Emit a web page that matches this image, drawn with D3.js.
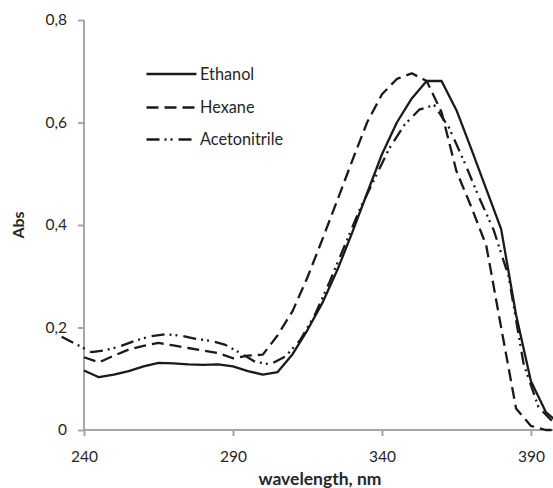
<!DOCTYPE html>
<html><head><meta charset="utf-8">
<script src="https://cdn.jsdelivr.net/npm/d3@7"></script>
<style>
html,body{margin:0;padding:0;background:#fff;overflow:hidden}
text{font-family:Lato,"Open Sans",sans-serif}
</style></head>
<body>
<svg id="chart" width="553" height="488"></svg>
<script>
// Data
const ethanolWl = [240,245,250,255,260,265,270,275,280,285,290,295,300,305,310,315,320,325,330,335,340,345,350,355,360,365,370,375,380,385,390,395,400];
const ethanolAbs = [0.116,0.103,0.108,0.115,0.124,0.131,0.130,0.128,0.127,0.128,0.124,0.115,0.108,0.113,0.148,0.195,0.248,0.312,0.385,0.462,0.538,0.600,0.647,0.681,0.681,0.624,0.548,0.470,0.392,0.225,0.095,0.035,0.010];
const hexaneWl = [240,245,250,255,260,265,270,275,280,285,290,295,300,305,310,315,320,325,330,335,340,345,350,355,360,365,370,375,380,385,390,395,400];
const hexaneAbs = [0.142,0.132,0.145,0.157,0.164,0.170,0.165,0.160,0.155,0.150,0.140,0.145,0.147,0.185,0.232,0.298,0.372,0.448,0.525,0.600,0.655,0.685,0.696,0.681,0.620,0.505,0.435,0.360,0.200,0.042,0.008,0.000,0.000];
const acetonitrileWl = [232.5,237.5,242.5,247.5,252.5,257.5,262.5,267.5,272.5,277.5,282.5,287.5,292.5,297.5,302.5,307.5,312.5,317.5,322.5,327.5,332.5,337.5,342.5,347.5,352.5,357.5,362.5,367.5,372.5,377.5,382.5,387.5,392.5,397.5];
const acetonitrileAbs = [0.182,0.167,0.152,0.156,0.164,0.175,0.183,0.187,0.184,0.178,0.174,0.166,0.150,0.133,0.128,0.143,0.175,0.225,0.290,0.360,0.430,0.490,0.550,0.595,0.625,0.634,0.590,0.525,0.455,0.390,0.300,0.130,0.045,0.015];
const seriesNames = ["Ethanol","Hexane","Acetonitrile"];
const xTicks = [240,290,340,390];
const yTicks = [0,0.2,0.4,0.6,0.8];

const svg = d3.select("#chart");
const x = d3.scaleLinear().domain([240,397.4]).range([84,553]);
const y = d3.scaleLinear().domain([0,0.8]).range([430,20]);
const axisColor = "#a6a6a6";
const textColor = "#262626";

// axes
const yAxis = svg.append("g").attr("transform","translate(84,0)")
  .call(d3.axisLeft(y).tickValues(yTicks).tickSize(6).tickPadding(11)
    .tickFormat(d => d===0 ? "0" : d3.format(".1f")(d).replace(".",",")));
const xAxis = svg.append("g").attr("transform","translate(0,430)")
  .call(d3.axisBottom(x).tickValues(xTicks).tickSize(6).tickPadding(15).tickFormat(d3.format("d")));
[yAxis,xAxis].forEach(g=>{
  g.select(".domain").attr("stroke",axisColor).attr("stroke-width",2);
  g.selectAll(".tick line").attr("stroke",axisColor).attr("stroke-width",2);
  g.selectAll(".tick text").attr("fill",textColor).style("font-size","15.5px").style("font-family","Lato, sans-serif");
});
yAxis.select(".domain").attr("d","M0,20V430");
xAxis.select(".domain").attr("d","M84,0H553");

// lines
const styles = [
  {dash:null},
  {dash:"12,6"},
  {dash:"13,5,2,4,2,6"}
];
const series = [
  ethanolWl.map((w,i)=>[w,ethanolAbs[i]]),
  hexaneWl.map((w,i)=>[w,hexaneAbs[i]]),
  acetonitrileWl.map((w,i)=>[w,acetonitrileAbs[i]])
];
const line = d3.line().x(d=>x(d[0])).y(d=>y(d[1]));
series.forEach((s,i)=>{
  svg.append("path").attr("d",line(s)).attr("fill","none")
    .attr("stroke","#1a1a1a").attr("stroke-width",2.3)
    .attr("stroke-linejoin","round")
    .attr("stroke-dasharray",styles[i].dash);
});

// legend
const legY = [74,107.5,139.5];
seriesNames.forEach((n,i)=>{
  svg.append("line").attr("x1",146.5).attr("x2",196.5).attr("y1",legY[i]).attr("y2",legY[i])
    .attr("stroke","#1a1a1a").attr("stroke-width",2.3).attr("stroke-dasharray",styles[i].dash);
  svg.append("text").attr("x",200).attr("y",legY[i]).attr("dy","0.35em")
    .attr("fill",textColor).style("font-size","16.3px").text(n);
});

// axis titles
svg.append("text").attr("x",320).attr("y",485).attr("text-anchor","middle")
  .attr("fill",textColor).style("font-size","17.5px").style("font-weight","bold").text("wavelength, nm");
svg.append("text").attr("transform","translate(24,225) rotate(-90)").attr("text-anchor","middle")
  .attr("fill",textColor).style("font-size","16px").style("font-weight","bold").text("Abs");
</script>
</body></html>
